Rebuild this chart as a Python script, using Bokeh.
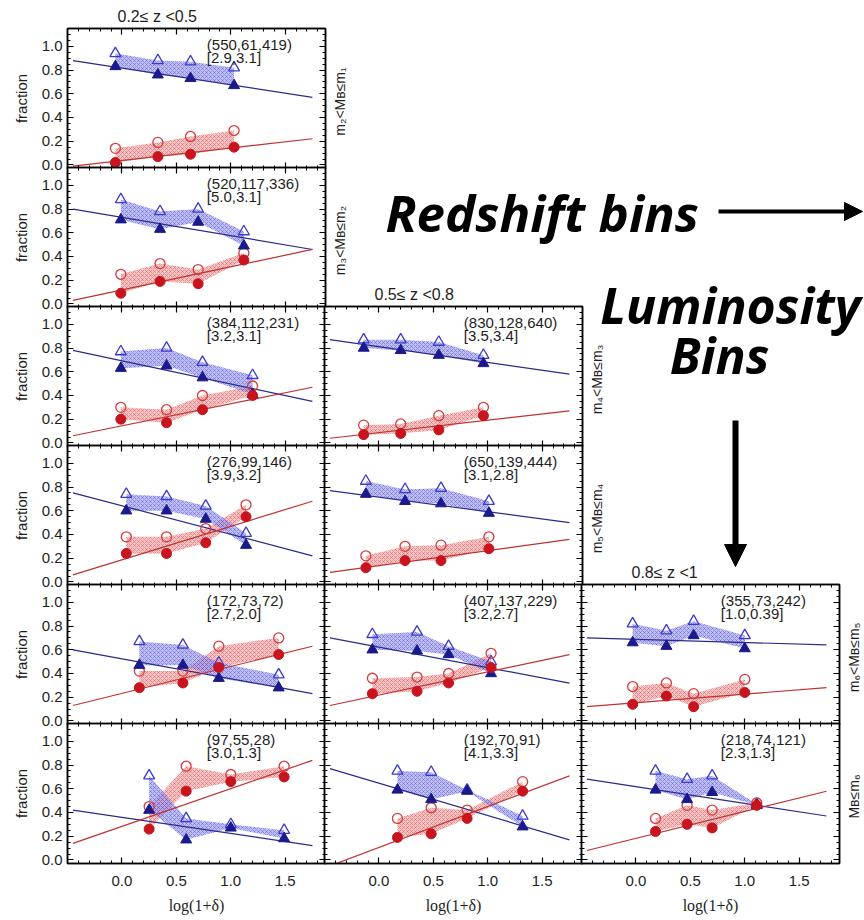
import math
from bokeh.plotting import figure
from bokeh.models import (Range1d, LinearAxis, FixedTicker, PrintfTickFormatter, Label,
                          Arrow, NormalHead)
from bokeh.layouts import column
from bokeh.embed import file_html
from bokeh.resources import INLINE

# ---------------- data ----------------
PANEL_ROW = [0, 1, 2, 3, 4, 5, 2, 3, 4, 5, 4, 5]
PANEL_COL = [0, 0, 0, 0, 0, 0, 1, 1, 1, 1, 2, 2]

X_POS = [
    [-0.06, 0.33, 0.63, 1.03],
    [-0.01, 0.35, 0.70, 1.12],
    [-0.01, 0.41, 0.74, 1.20],
    [0.04, 0.41, 0.77, 1.14],
    [0.16, 0.56, 0.89, 1.44],
    [0.25, 0.59, 1.00, 1.49],
    [-0.14, 0.20, 0.55, 0.96],
    [-0.12, 0.24, 0.57, 1.01],
    [-0.06, 0.35, 0.64, 1.03],
    [0.17, 0.48, 0.81, 1.32],
    [-0.03, 0.28, 0.53, 1.00],
    [0.18, 0.47, 0.70, 1.11],
]
BLUE_FILLED = [
    [0.83, 0.76, 0.73, 0.67],
    [0.71, 0.63, 0.69, 0.49],
    [0.63, 0.65, 0.55, 0.41],
    [0.60, 0.60, 0.53, 0.31],
    [0.47, 0.47, 0.36, 0.28],
    [0.42, 0.17, 0.27, 0.18],
    [0.80, 0.78, 0.74, 0.67],
    [0.74, 0.68, 0.66, 0.58],
    [0.60, 0.59, 0.56, 0.40],
    [0.59, 0.51, 0.58, 0.28],
    [0.66, 0.63, 0.72, 0.61],
    [0.59, 0.51, 0.57, 0.46],
]
BLUE_OPEN = [
    [0.94, 0.88, 0.87, 0.82],
    [0.88, 0.78, 0.80, 0.61],
    [0.77, 0.80, 0.68, 0.57],
    [0.74, 0.72, 0.64, 0.41],
    [0.67, 0.64, 0.49, 0.39],
    [0.71, 0.35, 0.30, 0.25],
    [0.87, 0.87, 0.85, 0.74],
    [0.85, 0.78, 0.79, 0.68],
    [0.73, 0.75, 0.63, 0.50],
    [0.75, 0.74, 0.59, 0.37],
    [0.82, 0.76, 0.84, 0.72],
    [0.75, 0.68, 0.71, 0.47],
]
RED_FILLED = [
    [0.02, 0.07, 0.09, 0.15],
    [0.09, 0.19, 0.17, 0.37],
    [0.20, 0.17, 0.28, 0.40],
    [0.24, 0.24, 0.33, 0.55],
    [0.28, 0.32, 0.45, 0.56],
    [0.26, 0.58, 0.66, 0.70],
    [0.07, 0.08, 0.11, 0.23],
    [0.12, 0.18, 0.18, 0.28],
    [0.23, 0.25, 0.32, 0.45],
    [0.19, 0.22, 0.35, 0.58],
    [0.14, 0.21, 0.12, 0.24],
    [0.24, 0.30, 0.27, 0.46],
]
RED_OPEN = [
    [0.14, 0.19, 0.24, 0.29],
    [0.25, 0.34, 0.29, 0.43],
    [0.30, 0.28, 0.40, 0.48],
    [0.38, 0.38, 0.45, 0.65],
    [0.42, 0.42, 0.63, 0.70],
    [0.45, 0.79, 0.72, 0.79],
    [0.15, 0.16, 0.23, 0.30],
    [0.22, 0.30, 0.31, 0.38],
    [0.36, 0.37, 0.40, 0.57],
    [0.35, 0.44, 0.42, 0.66],
    [0.29, 0.32, 0.23, 0.35],
    [0.35, 0.46, 0.42, 0.48],
]
# straight-line fits: value = intercept + slope * log(1+delta)
BLUE_FIT_INTERCEPT = [0.816, 0.730, 0.692, 0.642, 0.524, 0.359, 0.811, 0.715, 0.622, 0.647, 0.688, 0.617]
BLUE_FIT_SLOPE = [-0.141, -0.155, -0.195, -0.241, -0.168, -0.136, -0.132, -0.123, -0.173, -0.273, -0.027, -0.141]
RED_FIT_INTERCEPT = [0.037, 0.118, 0.144, 0.187, 0.232, 0.283, 0.087, 0.137, 0.218, 0.105, 0.153, 0.182]
RED_FIT_SLOPE = [0.105, 0.195, 0.186, 0.282, 0.227, 0.318, 0.105, 0.127, 0.195, 0.345, 0.073, 0.227]
FIT_X = [-0.45, 1.75]

COUNTS = ["(550,61,419)", "(520,117,336)", "(384,112,231)", "(276,99,146)", "(172,73,72)",
          "(97,55,28)", "(830,128,640)", "(650,139,444)", "(407,137,229)", "(192,70,91)",
          "(355,73,242)", "(218,74,121)"]
RATIOS = ["[2.9,3.1]", "[5.0,3.1]", "[3.2,3.1]", "[3.9,3.2]", "[2.7,2.0]", "[3.0,1.3]",
          "[3.5,3.4]", "[3.1,2.8]", "[3.2,2.7]", "[4.1,3.3]", "[1.0,0.39]", "[2.3,1.3]"]

Z_TITLES = ["0.2\u2264 z <0.5", "0.5\u2264 z <0.8", "0.8\u2264 z <1"]
Z_TITLE_ROW = [0, 2, 4]
LUM_LABELS = ["m\u2082<M\u0299\u2264m\u2081", "m\u2083<M\u0299\u2264m\u2082", "m\u2084<M\u0299\u2264m\u2083",
              "m\u2085<M\u0299\u2264m\u2084", "m\u2086<M\u0299\u2264m\u2085", "M\u0299\u2264m\u2086"]
LUM_LABEL_COL = [0, 0, 1, 1, 2, 2]

X_TICKS = [0.0, 0.5, 1.0, 1.5]
Y_TICKS = [0.0, 0.2, 0.4, 0.6, 0.8, 1.0]
X_LABEL = "log(1+\u03b4)"
Y_LABEL = "fraction"

# ---------------- geometry / style ----------------
XR = (-0.5, 1.87)
YR = (-0.03, 1.15)
FW, FH = 258, 140
COL_LEFT = [67, 324, 581]
ROW_TOP = [28, 167, 306, 445, 584, 723]
BL, BR, BT, BB = 75, 45, 30, 60
PAGE_W, PAGE_H = 864, 920

NAVY = "#1a1a8c"
BLUE = "#3a3ad0"
BLUE_FILL = "#8c8cee"
DRED = "#c8141e"
RED = "#d83a3a"
RED_FILL = "#f4a0a0"
TICK_FONT = "Liberation Sans"
INK = "#1e1e1e"

minor_x = [round(-0.5 + 0.1 * k, 2) for k in range(24)]
minor_y = [round(0.05 * k, 2) for k in range(0, 24)]


def make_axis(dim, show):
    if dim == 0:
        tk = FixedTicker(ticks=X_TICKS, minor_ticks=minor_x)
    else:
        tk = FixedTicker(ticks=Y_TICKS, minor_ticks=minor_y)
    ax = LinearAxis(ticker=tk, formatter=PrintfTickFormatter(format="%.1f"))
    ax.major_tick_in = 6
    ax.major_tick_out = 0
    ax.minor_tick_in = 3
    ax.minor_tick_out = 0
    ax.axis_line_width = 1.5
    ax.major_tick_line_width = 1.2
    ax.minor_tick_line_width = 1
    ax.major_label_text_font = TICK_FONT
    ax.major_label_text_font_size = "15px"
    if show:
        ax.major_label_text_color = INK
    else:
        ax.major_label_text_color = None
        ax.major_label_text_alpha = 0
    ax.axis_label_text_font = TICK_FONT
    ax.axis_label_text_font_size = "15px"
    ax.axis_label_text_font_style = "normal"
    ax.axis_label_text_color = INK
    if dim == 0:
        ax.major_label_standoff = 12
        ax.axis_label_standoff = 8
    else:
        ax.major_label_standoff = 5
        ax.axis_label_standoff = 9
    return ax


figs = []
for i in range(len(PANEL_ROW)):
    r, c = PANEL_ROW[i], PANEL_COL[i]
    p = figure(width=FW + BL + BR, height=FH + BT + BB,
               x_range=Range1d(*XR), y_range=Range1d(*YR),
               x_axis_location=None, y_axis_location=None,
               output_backend="svg", toolbar_location=None,
               min_border_left=BL, min_border_right=BR, min_border_top=BT, min_border_bottom=BB)
    p.border_fill_alpha = 0
    p.background_fill_color = "white"
    p.outline_line_color = "black"
    p.outline_line_width = 1.5
    p.grid.visible = False

    bottom = make_axis(0, r == 5)
    if r == 5:
        bottom.axis_label = X_LABEL
        bottom.axis_label_text_font = "Liberation Serif"
        bottom.axis_label_text_font_size = "16px"
    p.add_layout(bottom, "below")
    p.add_layout(make_axis(0, False), "above")
    left = make_axis(1, c == 0)
    if c == 0:
        left.axis_label = Y_LABEL
    p.add_layout(left, "left")
    p.add_layout(make_axis(1, False), "right")

    xs = X_POS[i]
    # shaded bands between filled and open points
    p.patch(xs + xs[::-1], RED_FILLED[i] + RED_OPEN[i][::-1],
            fill_color=RED_FILL, fill_alpha=0.6, line_color=None,
            hatch_pattern="diagonal_cross", hatch_color=RED, hatch_alpha=0.55,
            hatch_scale=4, hatch_weight=0.7)
    p.patch(xs + xs[::-1], BLUE_FILLED[i] + BLUE_OPEN[i][::-1],
            fill_color=BLUE_FILL, fill_alpha=0.55, line_color=None,
            hatch_pattern="diagonal_cross", hatch_color=BLUE, hatch_alpha=0.55,
            hatch_scale=4, hatch_weight=0.7)

    # fits
    p.line(FIT_X, [BLUE_FIT_INTERCEPT[i] + BLUE_FIT_SLOPE[i] * x for x in FIT_X],
           line_color="#2a2a8a", line_width=1.2)
    p.line(FIT_X, [RED_FIT_INTERCEPT[i] + RED_FIT_SLOPE[i] * x for x in FIT_X],
           line_color="#c03030", line_width=1.2)

    # points
    p.scatter(xs, BLUE_OPEN[i], marker="triangle", size=11, fill_color=None,
              line_color=BLUE, line_width=1.3)
    p.scatter(xs, RED_OPEN[i], marker="circle", size=10, fill_color=None,
              line_color=RED, line_width=1.3)
    p.scatter(xs, BLUE_FILLED[i], marker="triangle", size=11, fill_color=NAVY,
              line_color=NAVY)
    p.scatter(xs, RED_FILLED[i], marker="circle", size=10, fill_color=DRED,
              line_color=DRED)

    # number annotations
    p.add_layout(Label(x=0.78, y=1.09, text=COUNTS[i], text_font=TICK_FONT,
                       text_font_size="15px", text_baseline="top", text_color=INK))
    p.add_layout(Label(x=0.78, y=0.975, text=RATIOS[i], text_font=TICK_FONT,
                       text_font_size="15px", text_baseline="top", text_color=INK))

    p.styles = {"position": "absolute",
                "left": f"{COL_LEFT[c] - BL}px", "top": f"{ROW_TOP[r] - BT}px"}
    figs.append(p)

# Overlay with titles, luminosity labels and the big annotations.
# The column gives its plots the same side borders (BL on the left), so the
# overlay frame starts at page x = BL: its x range is set so data x == page x.
ov = figure(frame_width=PAGE_W, frame_height=PAGE_H,
            x_range=Range1d(BL, BL + PAGE_W), y_range=Range1d(PAGE_H, 0),
            x_axis_location=None, y_axis_location=None, output_backend="svg",
            toolbar_location=None, min_border=0)
ov.outline_line_color = None
ov.background_fill_alpha = 0
ov.border_fill_alpha = 0
ov.grid.visible = False

for c in range(3):
    r = Z_TITLE_ROW[c]
    ov.add_layout(Label(x=COL_LEFT[c] + 50, y=ROW_TOP[r] - 4, text=Z_TITLES[c],
                        text_font=TICK_FONT, text_font_size="16px",
                        text_baseline="bottom", text_color=INK))
for r in range(6):
    c = LUM_LABEL_COL[r]
    ov.add_layout(Label(x=COL_LEFT[c] + FW + 14, y=ROW_TOP[r] + FH / 2 + 3, text=LUM_LABELS[r],
                        angle=math.pi / 2, text_font=TICK_FONT, text_font_size="14px",
                        text_align="center", text_baseline="middle", text_color=INK))

ANN_FONT = "Open Sans"
ov.add_layout(Label(x=385, y=211, text="Redshift bins", text_font=ANN_FONT,
                    text_font_size="51px", text_font_style="bold italic",
                    text_baseline="middle", text_color="black"))
ov.add_layout(Label(x=730, y=304, text="Luminosity", text_font=ANN_FONT,
                    text_font_size="50px", text_font_style="bold italic",
                    text_align="center", text_baseline="middle", text_color="black"))
ov.add_layout(Label(x=719, y=354, text="Bins", text_font=ANN_FONT,
                    text_font_size="50px", text_font_style="bold italic",
                    text_align="center", text_baseline="middle", text_color="black"))
ov.add_layout(Arrow(x_start=718, y_start=211, x_end=862, y_end=211, line_width=4,
                    line_color="black",
                    end=NormalHead(size=18, fill_color="black", line_color="black")))
ov.add_layout(Arrow(x_start=735, y_start=420, x_end=735, y_end=566, line_width=6,
                    line_color="black",
                    end=NormalHead(size=22, fill_color="black", line_color="black")))
ov.styles = {"position": "absolute", "left": "0px", "top": "0px", "pointer-events": "none"}
figs.append(ov)

root = column(*figs, width=PAGE_W, height=PAGE_H, sizing_mode="fixed",
              styles={"position": "relative"})

open("out.html", "w").write(file_html(root, INLINE))
